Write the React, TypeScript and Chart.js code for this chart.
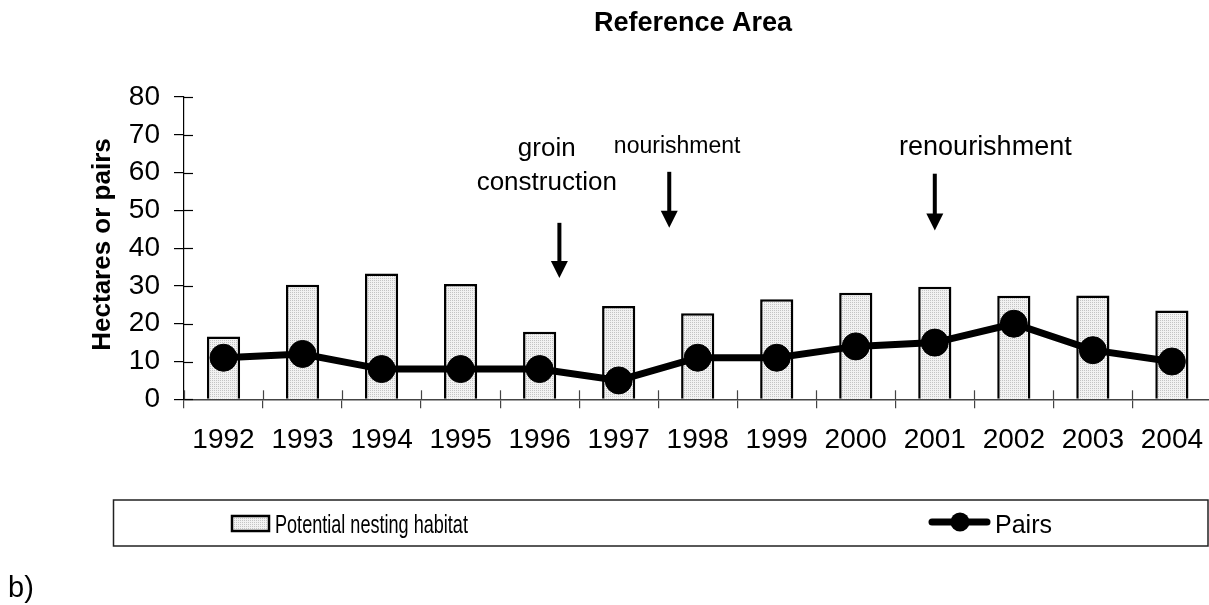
import React, { useEffect, useRef } from 'react';
import { Chart, registerables } from 'chart.js';

Chart.register(...registerables);

// ---------- data ----------
const years = ['1992', '1993', '1994', '1995', '1996', '1997', '1998', '1999', '2000', '2001', '2002', '2003', '2004'];
const habitatHectares = [16.6, 30.3, 33.3, 30.5, 17.9, 24.7, 22.8, 26.5, 28.2, 29.8, 27.4, 27.5, 23.5];
const pairsCount = [11, 12, 8, 8, 8, 5, 11, 11, 14, 15, 20, 13, 10];
const yMin = 0;
const yMax = 80;
const yStep = 10;
const chartTitle = 'Reference Area';
const yAxisTitle = 'Hectares or pairs';
const seriesNames = ['Potential nesting habitat', 'Pairs'];
const annotationTexts = [['groin', 'construction'], ['nourishment'], ['renourishment']];
const panelLabel = 'b)';

// ---------- annotation anchors (category index / axis value) ----------
const annotationTextIndex = [4.09, 5.74, 9.64];
const annotationTextValue = [[64.3, 55.4], [65.2], [64.7]];
const annotationFontSize = [26, 23, 27];
const arrowIndex = [4.25, 5.64, 9.0];
const arrowTopValue = [46.7, 60.2, 59.7];
const arrowTipValue = [32.1, 45.4, 44.7];

const FONT = "'Liberation Sans', Arial, sans-serif";
const W = 1213;
const H = 605;

export default function App() {
  const ref = useRef<HTMLCanvasElement | null>(null);

  useEffect(() => {
    const canvas = ref.current;
    if (!canvas) return;
    const ctx0 = canvas.getContext('2d')!;

    const pc = document.createElement('canvas');
    pc.width = 2;
    pc.height = 2;
    const p = pc.getContext('2d')!;
    p.fillStyle = '#f2f2f2';
    p.fillRect(0, 0, 2, 2);
    p.fillStyle = '#c4c4c4';
    p.fillRect(0, 0, 1, 1);
    const pattern = ctx0.createPattern(pc, 'repeat')!;

    const decor = {
      id: 'decor',
      beforeDatasetsDraw(chart: any) {
        const ctx = chart.ctx;
        const xs = chart.scales.x;
        const ys = chart.scales.y;
        const area = chart.chartArea;
        ctx.save();
        ctx.strokeStyle = '#000';
        ctx.lineWidth = 1.2;
        ys.ticks.forEach((_t: any, i: number) => {
          const py = Math.round(ys.getPixelForTick(i)) + 0.5;
          ctx.beginPath();
          ctx.moveTo(area.left, py);
          ctx.lineTo(area.left + 9, py);
          ctx.stroke();
        });
        ctx.strokeStyle = '#444';
        for (let i = 0; i <= years.length; i++) {
          const px = Math.round(xs.getPixelForValue(i - 0.5)) + 0.5;
          ctx.beginPath();
          ctx.moveTo(px, area.bottom);
          ctx.lineTo(px, area.bottom - 9);
          ctx.stroke();
        }
        ctx.restore();
      },
      afterDraw(chart: any) {
        const ctx = chart.ctx;
        const xs = chart.scales.x;
        const ys = chart.scales.y;
        ctx.save();
        ctx.fillStyle = '#000';
        ctx.textBaseline = 'alphabetic';

        // title
        ctx.textAlign = 'center';
        ctx.font = `bold 27px ${FONT}`;
        ctx.fillText(chartTitle, 693, 31);

        // y axis title
        ctx.save();
        ctx.translate(110, 244.5);
        ctx.rotate(-Math.PI / 2);
        ctx.font = `bold 26px ${FONT}`;
        ctx.textAlign = 'center';
        ctx.fillText(yAxisTitle, 0, 0);
        ctx.restore();

        // annotations
        annotationTexts.forEach((lines, i) => {
          ctx.font = `${annotationFontSize[i]}px ${FONT}`;
          ctx.textAlign = 'center';
          lines.forEach((ln, j) => {
            ctx.fillText(ln, xs.getPixelForValue(annotationTextIndex[i]), ys.getPixelForValue(annotationTextValue[i][j]));
          });
          const ax = xs.getPixelForValue(arrowIndex[i]);
          const top = ys.getPixelForValue(arrowTopValue[i]);
          const tip = ys.getPixelForValue(arrowTipValue[i]);
          ctx.fillRect(ax - 2, top, 4, tip - top - 15);
          ctx.beginPath();
          ctx.moveTo(ax - 8.5, tip - 17);
          ctx.lineTo(ax + 8.5, tip - 17);
          ctx.lineTo(ax, tip);
          ctx.closePath();
          ctx.fill();
        });

        // legend box
        ctx.strokeStyle = '#222';
        ctx.lineWidth = 1.5;
        ctx.strokeRect(113.5, 500, 1094.5, 46);

        // bar swatch
        ctx.fillStyle = pattern;
        ctx.fillRect(231, 515, 39, 17);
        ctx.strokeStyle = '#000';
        ctx.lineWidth = 2.5;
        ctx.strokeRect(232, 516, 37, 15);
        ctx.fillStyle = '#000';
        ctx.save();
        ctx.translate(275, 533);
        ctx.scale(0.723, 1);
        ctx.font = `25px ${FONT}`;
        ctx.textAlign = 'left';
        ctx.fillText(seriesNames[0], 0, 0);
        ctx.restore();

        // line swatch
        ctx.beginPath();
        ctx.lineWidth = 7;
        ctx.lineCap = 'round';
        ctx.moveTo(932, 522);
        ctx.lineTo(987, 522);
        ctx.stroke();
        ctx.beginPath();
        ctx.arc(960, 522, 9.5, 0, Math.PI * 2);
        ctx.fill();
        ctx.font = `25px ${FONT}`;
        ctx.textAlign = 'left';
        ctx.fillText(seriesNames[1], 995, 533);

        // panel label
        ctx.font = `29px ${FONT}`;
        ctx.fillText(panelLabel, 8, 597);
        ctx.restore();
      },
    };

    const chart = new Chart(canvas, {
      type: 'bar',
      data: {
        labels: years,
        datasets: [
          {
            type: 'line',
            label: seriesNames[1],
            data: pairsCount,
            borderColor: '#000',
            backgroundColor: '#000',
            borderWidth: 7,
            pointRadius: 13.5,
            pointBackgroundColor: '#000',
            pointBorderColor: '#000',
            pointBorderWidth: 1,
            tension: 0,
            order: 1,
          } as any,
          {
            type: 'bar',
            label: seriesNames[0],
            data: habitatHectares,
            backgroundColor: pattern as any,
            borderColor: '#000',
            borderWidth: 2.5,
            barPercentage: 0.42,
            categoryPercentage: 1,
            order: 2,
          },
        ],
      },
      options: {
        animation: false,
        responsive: false,
        devicePixelRatio: 1,
        layout: { autoPadding: false, padding: { top: 97, left: 0, right: 1.6, bottom: 0 } },
        plugins: {
          legend: { display: false },
          title: { display: false },
          tooltip: { enabled: false },
        },
        scales: {
          x: {
            offset: true,
            grid: { display: true, drawOnChartArea: false, drawTicks: true, tickLength: 9, color: '#444', lineWidth: 1.2, offset: true },
            border: { display: true, color: '#444', width: 1.5 },
            ticks: { font: { size: 28, family: FONT }, color: '#000', padding: 15, maxRotation: 0, autoSkip: false },
            afterFit: (s: any) => {
              s.height = H - 399.3;
              s.paddingLeft = 0;
              s.paddingRight = 0;
            },
          },
          y: {
            min: yMin,
            max: yMax,
            grid: { display: true, drawOnChartArea: false, drawTicks: true, tickLength: 10, color: '#000', lineWidth: 1.2 },
            border: { display: true, color: '#000', width: 1.2 },
            ticks: { stepSize: yStep, font: { size: 28, family: FONT }, color: '#000', padding: 14 },
            afterFit: (s: any) => {
              s.width = 184;
              s.paddingTop = 0;
              s.paddingBottom = 0;
            },
          },
        },
      } as any,
      plugins: [decor],
    });

    return () => chart.destroy();
  }, []);

  return (
    <div style={{ position: 'fixed', left: 0, top: 0, width: 1209, height: 605, overflow: 'hidden', background: '#fff' }}>
      <canvas ref={ref} width={W} height={H} style={{ display: 'block', width: W, height: H }} />
    </div>
  );
}
